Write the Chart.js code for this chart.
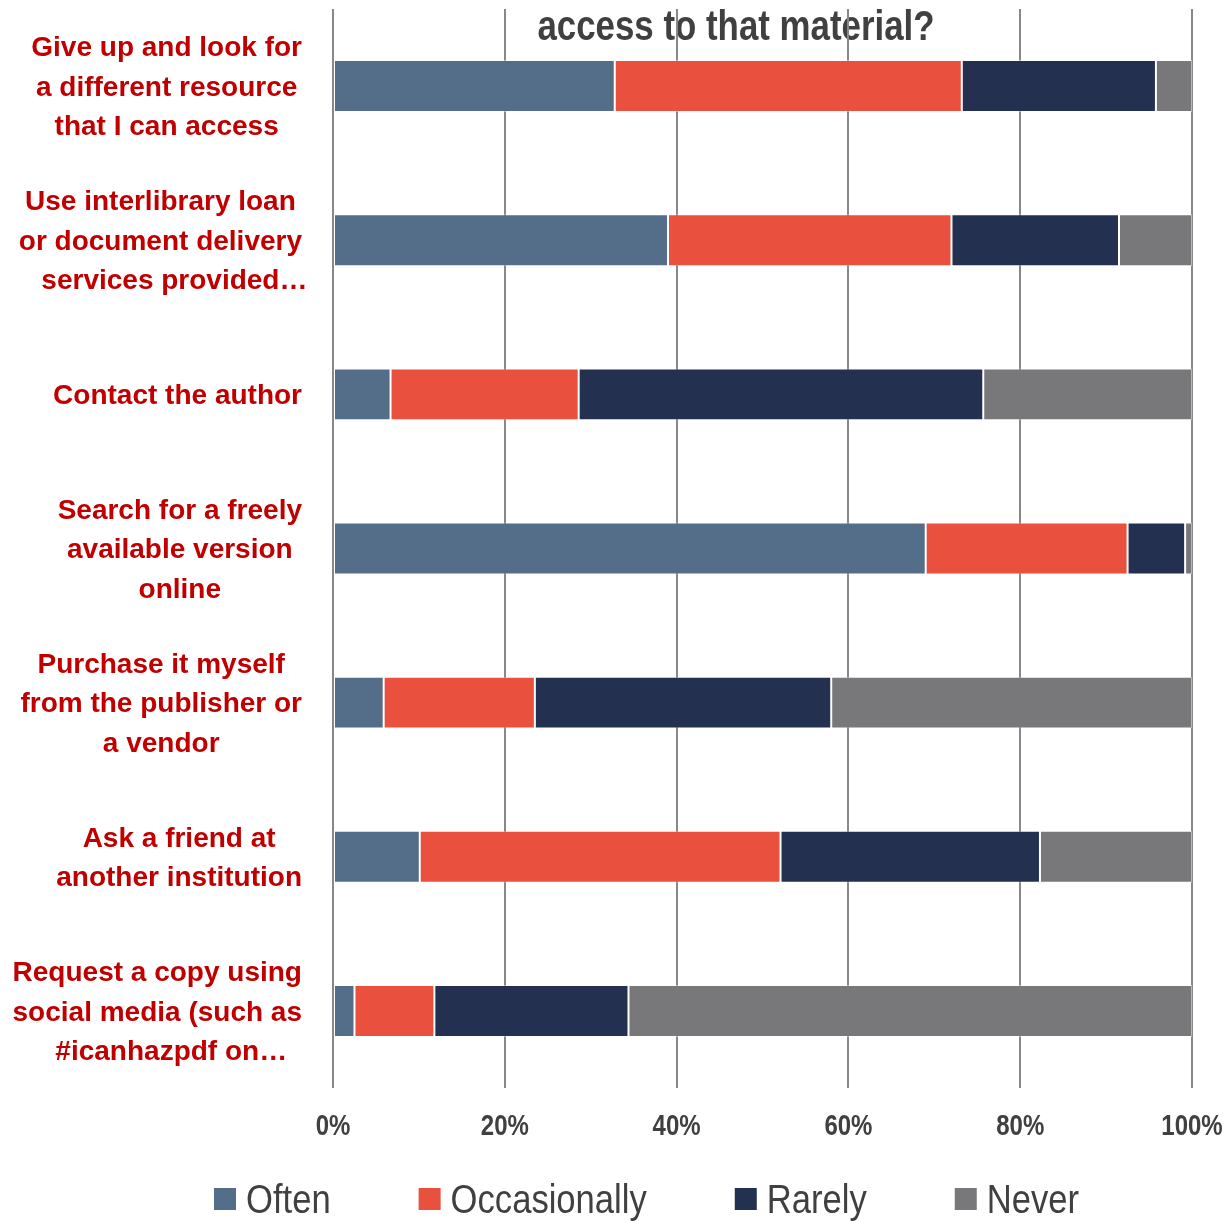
<!DOCTYPE html>
<html>
<head>
<meta charset="utf-8">
<script src="https://cdn.jsdelivr.net/npm/chart.js@4.4.1/dist/chart.umd.min.js"></script>
<style>
  html, body { margin: 0; padding: 0; background: #ffffff; }
  #wrap { width: 1226px; height: 1221px; position: relative; }
</style>
</head>
<body>
<div id="wrap"><canvas id="c"></canvas></div>
<script>
// ---- data ----
const categories = [
  ["Give up and look for", "a different resource", "that I can access"],
  ["Use interlibrary loan", "or document delivery", "services provided\u2026"],
  ["Contact the author"],
  ["Search for a freely", "available version", "online"],
  ["Purchase it myself", "from the publisher or", "a vendor"],
  ["Ask a friend at", "another institution"],
  ["Request a copy using", "social media (such as", "#icanhazpdf on\u2026"]
];
const seriesNames = ["Often", "Occasionally", "Rarely", "Never"];
const often        = [32.8, 39.0,  6.7, 69.0,  5.9, 10.1,  2.5];
const occasionally = [40.4, 33.0, 21.9, 23.5, 17.6, 42.0,  9.3];
const rarely       = [22.6, 19.5, 47.1,  6.7, 34.5, 30.2, 22.6];
const never        = [ 4.2,  8.5, 24.3,  0.8, 42.0, 17.7, 65.6];
const xTickValues  = [0, 20, 40, 60, 80, 100];
const xTickLabels  = ["0%", "20%", "40%", "60%", "80%", "100%"];
const titleText    = "access to that material?";

const colors = ["#546e8a", "#e9503e", "#233050", "#78787b"];
const REG = "'Liberation Sans', Arial, sans-serif";

const seriesData = [often, occasionally, rarely, never];

// draw text horizontally condensed (Arial Narrow look)
function narrowText(ctx, text, x, y, align, sx) {
  ctx.save();
  ctx.translate(x, y);
  ctx.scale(sx, 1);
  ctx.textAlign = align;
  ctx.fillText(text, 0, 0);
  ctx.restore();
}

// ---- plugins ----
const titlePlugin = {
  id: 'topTitle',
  beforeDraw(chart) {
    const ctx = chart.ctx;
    ctx.save();
    ctx.font = "bold 42px " + REG;
    ctx.fillStyle = "#404040";
    ctx.textBaseline = "alphabetic";
    narrowText(ctx, titleText, 736, 40, "center", 0.83);
    ctx.restore();
  }
};

const xTickPlugin = {
  id: 'xTicks',
  afterDraw(chart) {
    const ctx = chart.ctx;
    const x = chart.scales.x;
    ctx.save();
    ctx.font = "bold 30px " + REG;
    ctx.fillStyle = "#404040";
    ctx.textBaseline = "alphabetic";
    xTickValues.forEach((v, i) => {
      narrowText(ctx, xTickLabels[i], x.getPixelForValue(v), 1135, "center", 0.8);
    });
    ctx.restore();
  }
};

const catLabelPlugin = {
  id: 'catLabels',
  afterDraw(chart) {
    const ctx = chart.ctx;
    const y = chart.scales.y;
    ctx.save();
    ctx.font = "bold 28px " + REG;
    ctx.fillStyle = "#c00000";
    ctx.textAlign = "center";
    ctx.textBaseline = "middle";
    const lh = 39.5;
    const rightEdge = 302;
    categories.forEach((lines, i) => {
      const cy = y.getPixelForValue(i) + 2;
      let maxW = 0;
      lines.forEach(l => { maxW = Math.max(maxW, ctx.measureText(l).width); });
      const cx = rightEdge - maxW / 2;
      const n = lines.length;
      lines.forEach((l, k) => {
        const ly = cy + (k - (n - 1) / 2) * lh;
        const off = l.endsWith("\u2026") ? 14 : 0;
        ctx.fillText(l, cx + off, ly);
      });
    });
    ctx.restore();
  }
};

const legendPlugin = {
  id: 'customLegend',
  afterDraw(chart) {
    const ctx = chart.ctx;
    ctx.save();
    ctx.font = "40px " + REG;
    ctx.textBaseline = "alphabetic";
    const sx = 0.865;
    const box = 22, gapText = 10, gapItem = 88;
    let x = 214;
    const boxTop = 1188, baseline = 1213;
    chart.data.datasets.forEach(ds => {
      const w = ctx.measureText(ds.label).width * sx;
      ctx.fillStyle = ds.backgroundColor;
      ctx.fillRect(x, boxTop, box, box);
      ctx.fillStyle = "#404040";
      narrowText(ctx, ds.label, x + box + gapText, baseline, "left", sx);
      x += box + gapText + w + gapItem;
    });
    ctx.restore();
  }
};

// ---- chart ----
const datasets = seriesNames.map((name, i) => ({
  label: name,
  data: seriesData[i],
  backgroundColor: colors[i],
  borderColor: "rgba(255,255,255,0.4)",
  borderWidth: 1,
  borderSkipped: false,
  barPercentage: 0.337,
  categoryPercentage: 1.0
}));

new Chart(document.getElementById('c'), {
  type: 'bar',
  data: { labels: categories.map(l => l.join(" ")), datasets },
  options: {
    indexAxis: 'y',
    responsive: true,
    maintainAspectRatio: false,
    animation: false,
    layout: { padding: { top: 9, right: 34, bottom: 0, left: 0 } },
    plugins: {
      legend: { display: false },
      title: { display: false },
      tooltip: { enabled: false }
    },
    scales: {
      x: {
        stacked: true,
        min: 0, max: 100,
        ticks: { stepSize: 20, display: false },
        grid: { color: "#888888", lineWidth: 2, drawTicks: false },
        border: { display: false },
        afterFit(scale) { scale.height = 133; }
      },
      y: {
        stacked: true,
        ticks: { display: false },
        grid: { display: false, drawTicks: false },
        border: { display: false },
        afterFit(scale) { scale.width = 333; }
      }
    }
  },
  plugins: [titlePlugin, xTickPlugin, catLabelPlugin, legendPlugin]
});
</script>
</body>
</html>
